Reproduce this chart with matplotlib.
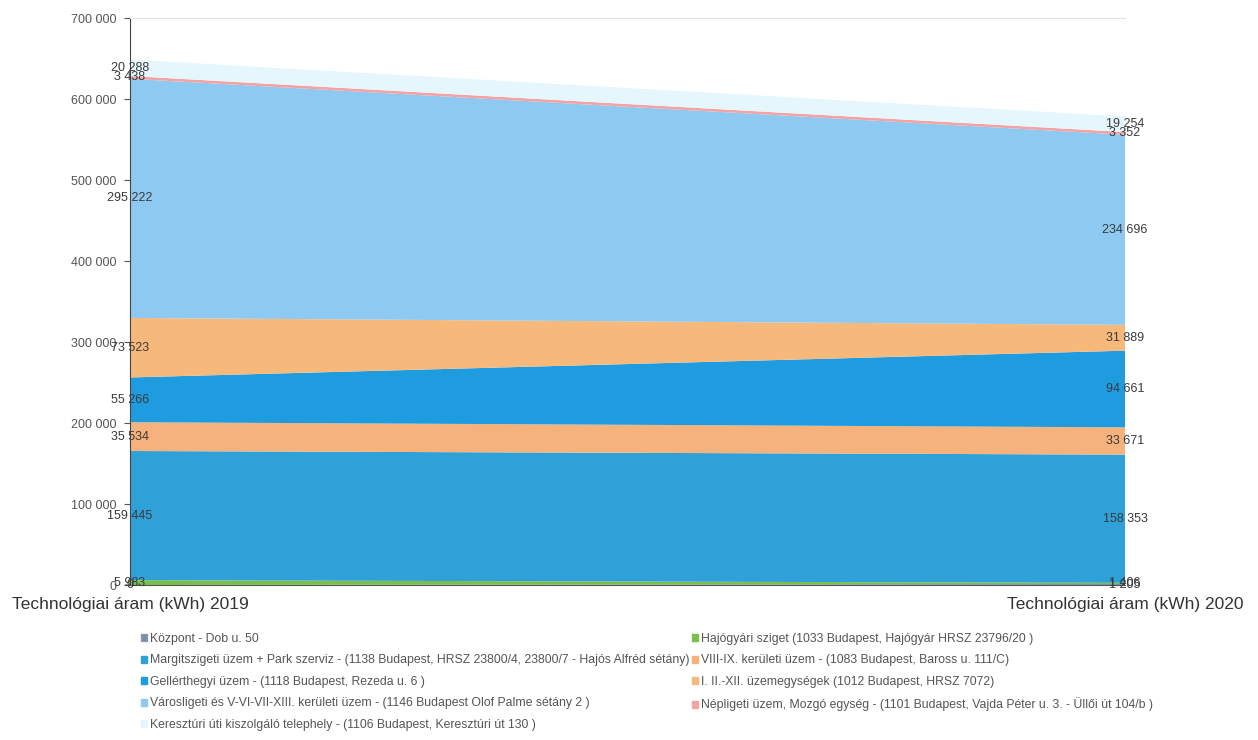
import matplotlib
matplotlib.use("Agg")
import matplotlib.pyplot as plt
from matplotlib.patches import Patch

plt.rcParams['font.family'] = ['Liberation Sans', 'DejaVu Sans']

years = ["Technológiai áram (kWh) 2019", "Technológiai áram (kWh) 2020"]
series_names = [
    "Központ - Dob u. 50",
    "Hajógyári sziget (1033 Budapest, Hajógyár HRSZ 23796/20 )",
    "Margitszigeti üzem + Park szerviz - (1138 Budapest, HRSZ 23800/4, 23800/7 - Hajós Alfréd sétány)",
    "VIII-IX. kerületi üzem - (1083 Budapest, Baross u. 111/C)",
    "Gellérthegyi üzem - (1118 Budapest, Rezeda u. 6 )",
    "I. II.-XII. üzemegységek (1012 Budapest, HRSZ 7072)",
    "Városligeti és V-VI-VII-XIII. kerületi üzem - (1146 Budapest Olof Palme sétány 2 )",
    "Népligeti üzem, Mozgó egység - (1101 Budapest, Vajda Péter u. 3. - Üllői út 104/b )",
    "Keresztúri úti kiszolgáló telephely - (1106 Budapest, Keresztúri út 130 )",
]
kozpont = [0, 1205]
hajogyari = [5983, 1406]
margit = [159445, 158353]
viii_ix = [35534, 33671]
gellert = [55266, 94661]
i_ii_xii = [73523, 31889]
varosliget = [295222, 234696]
nepliget = [3438, 3352]
keresztur = [20288, 19254]
values = [kozpont, hajogyari, margit, viii_ix, gellert, i_ii_xii, varosliget, nepliget, keresztur]
colors = ['#7d8ea8', '#79bf4a', '#2fa0d8', '#f6b27c', '#1f9be0', '#f7b87c', '#8ec9f1', '#f3a3a3', '#e6f6fd']

fig = plt.figure(figsize=(12.58, 7.4), dpi=100)
ax = fig.add_axes([130/1258, 1-585/740, (1125-130)/1258, (585-18)/740])
x = [0, 1]
ax.stackplot(x, *values, colors=colors, labels=series_names, linewidth=0)
ax.set_xlim(0, 1)
ax.set_ylim(0, 700000)
ax.set_yticks(range(0, 700001, 100000))
ax.set_yticklabels([f"{v:,}".replace(",", " ") for v in range(0, 700001, 100000)],
                   fontsize=9, color='#555555')
ax.set_xticks(x)
ax.set_xticklabels(years, fontsize=12.5, color='#333333')
ax.tick_params(axis='x', length=0, pad=9)
ax.tick_params(axis='y', length=4, color='#555555', pad=6)
ax.spines['right'].set_visible(False)
ax.spines['top'].set_color('#e4e4e4')
ax.spines['left'].set_color('#444444')
ax.spines['bottom'].set_color('#555555')

# data labels
for i in range(2):
    cum = 0
    for vals in values:
        v = vals[i]
        ax.text(x[i], cum + v / 2, f"{v:,}".replace(",", " "), ha='center', va='center',
                fontsize=9, color='#3a3a3a', clip_on=False)
        cum += v

order = [0, 2, 4, 6, 8, 1, 3, 5, 7]
handles = [Patch(facecolor=colors[k], edgecolor='#8899aa' if k == 0 else colors[k]) for k in order]
labels = [series_names[k] for k in order]
fig.legend(handles, labels, loc='upper left', bbox_to_anchor=(136/1258, 1-628/740), ncol=2,
           frameon=False, fontsize=8.8, labelcolor='#555555', handlelength=0.5, handleheight=0.5,
           handletextpad=0.25, columnspacing=0.2, labelspacing=0.78, borderaxespad=0)

fig.savefig("out.png", dpi=100)
